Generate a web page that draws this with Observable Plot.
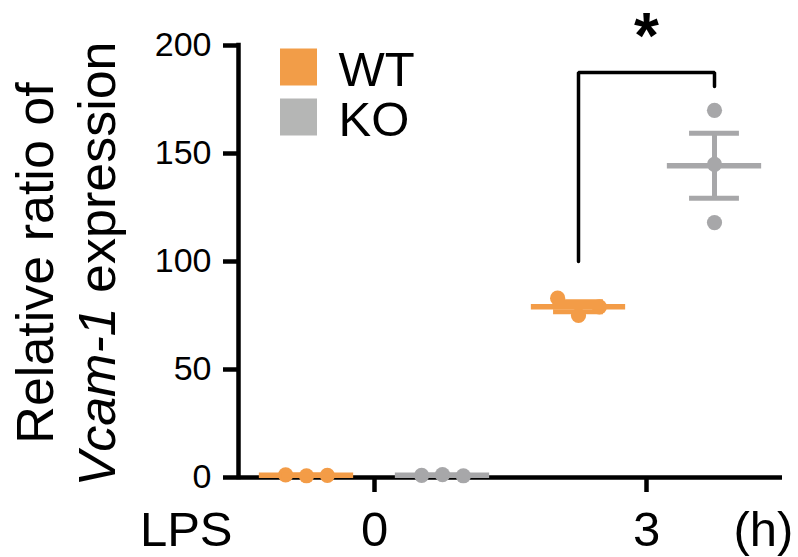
<!DOCTYPE html>
<html><head><meta charset="utf-8">
<script src="https://cdn.jsdelivr.net/npm/d3@7"></script>
<script src="https://cdn.jsdelivr.net/npm/@observablehq/plot@0.6"></script>
<style>
html,body{margin:0;padding:0;background:#fff;}
#chart{width:798px;height:557px;}
</style></head><body><div id="chart"></div>
<script>
// ---- data ----
const times = [0, 3];
const genotypes = ["WT", "KO"];
const wt0 = [1.2, 0.8, 1.0];
const ko0 = [1.0, 1.3, 0.8];
const wt3 = [83, 75, 79];
const ko3 = [170, 145, 118];
const yTicks = [0, 50, 100, 150, 200];
const xTicks = [0, 3];
const xEndLabels = ["LPS", "(h)"];
const yLabelLine1 = "Relative ratio of";
const yLabelGene = "Vcam-1";
const yLabelRest = " expression";
const sigLabel = "*";
const bracketLevels = {top: 187.5, leftBottom: 100, rightBottom: 181};
const seriesColors = ["#f39c47", "#a7a7a9"];
const legendColors = ["#f29d48", "#b5b6b5"];

// ---- layout constants ----
const FONT = "'Liberation Sans', Arial, Helvetica, sans-serif";
const groupOffset = {WT: -0.75, KO: 0.75};
const spread = 0.23, meanHalf = 0.52, capHalf = 0.275, dotR = 7.6;
const pxPerUnit = (557 - 45 - 80) / 200;

const groupValues = {"0-WT": wt0, "0-KO": ko0, "3-WT": wt3, "3-KO": ko3};
const stats = [];
const points = [];
for (const t of times) for (const g of genotypes) {
  const vals = groupValues[`${t}-${g}`];
  const center = t + groupOffset[g];
  const mean = d3.mean(vals);
  const sem = d3.deviation(vals) / Math.sqrt(vals.length);
  let crowded = false;
  for (let i = 0; i < vals.length; i++) for (let j = i + 1; j < vals.length; j++)
    if (Math.abs(vals[i] - vals[j]) * pxPerUnit < 2 * dotR) crowded = true;
  stats.push({time: t, genotype: g, center, mean, sem});
  vals.forEach((v, i) => points.push({genotype: g, x: center + (crowded ? (i - (vals.length - 1) / 2) * spread : 0), y: v}));
}
const caps = stats.flatMap(d => [{...d, cap: d.mean - d.sem}, {...d, cap: d.mean + d.sem}]);
const bx1 = 3 + groupOffset.WT, bx2 = 3 + groupOffset.KO;
const bracket = [
  {x: bx1, y: bracketLevels.leftBottom}, {x: bx1, y: bracketLevels.top},
  {x: bx2, y: bracketLevels.top}, {x: bx2, y: bracketLevels.rightBottom}
];

const legendMarks = genotypes.flatMap((g, i) => [
  Plot.dot([g], {frameAnchor: "top-left", dx: 60, dy: 21.5 + i * 50, symbol: "square", r: 37 / Math.sqrt(Math.PI), fill: legendColors[i]}),
  Plot.text([g], {frameAnchor: "top-left", dx: 100, dy: 40 + i * 50, text: d => d, textAnchor: "start", lineAnchor: "bottom", fontSize: 49, fill: "#000"})
]);

const plot = Plot.plot({
  width: 798, height: 557,
  marginLeft: 238, marginRight: 16, marginTop: 45, marginBottom: 80,
  x: {domain: [-1.5, 4.5]},
  y: {domain: [0, 200]},
  color: {domain: genotypes, range: seriesColors},
  style: {fontFamily: FONT, fontSize: "34px", background: "#fff", color: "#000", overflow: "visible"},
  marks: [
    Plot.ruleX([-1.5], {y1: 0, y2: 200, stroke: "#000", strokeWidth: 4.5, strokeLinecap: "square"}),
    Plot.ruleY([0], {x1: -1.5, x2: 4.5, stroke: "#000", strokeWidth: 4.5}),
    Plot.axisY({ticks: yTicks, tickSize: 15, tickPadding: 12, fontSize: 34, strokeWidth: 4.5, label: null, tickFormat: d => d}),
    Plot.axisX({ticks: xTicks, tickSize: 15, tickPadding: 19, fontSize: 49, strokeWidth: 4.5, label: null, tickFormat: d => d}),
    Plot.text([xEndLabels[0]], {frameAnchor: "bottom-left", dx: -6, dy: 34, text: d => d, textAnchor: "end", lineAnchor: "top", fontSize: 49, fill: "#000"}),
    Plot.text([xEndLabels[1]], {frameAnchor: "bottom-right", dx: -49, dy: 34, text: d => d, textAnchor: "start", lineAnchor: "top", fontSize: 49, fill: "#000"}),
    Plot.dot(points, {x: "x", y: "y", r: dotR, fill: "genotype"}),
    Plot.ruleY(stats, {y: "mean", x1: d => d.center - meanHalf, x2: d => d.center + meanHalf, stroke: "genotype", strokeWidth: 5.5}),
    Plot.ruleX(stats, {x: "center", y1: d => d.mean - d.sem, y2: d => d.mean + d.sem, stroke: "genotype", strokeWidth: 5}),
    Plot.ruleY(caps, {y: "cap", x1: d => d.center - capHalf, x2: d => d.center + capHalf, stroke: "genotype", strokeWidth: 5}),
    Plot.line(bracket, {x: "x", y: "y", stroke: "#000", strokeWidth: 3.5, strokeLinejoin: "miter"}),
    Plot.text([sigLabel], {x: (bx1 + bx2) / 2, y: bracketLevels.top, dy: -15, text: d => d, lineAnchor: "bottom", fontSize: 64, fontWeight: "bold", fill: "#000"}),
    ...legendMarks
  ]
});

// two-line rotated y label with an italic gene name
const svg = d3.select(plot);
svg.append("text")
  .attr("transform", "translate(53,263) rotate(-90)")
  .attr("text-anchor", "middle").attr("font-size", 52).attr("font-family", FONT).attr("fill", "#000")
  .text(yLabelLine1);
const l2 = svg.append("text")
  .attr("transform", "translate(115,264) rotate(-90)")
  .attr("text-anchor", "middle").attr("font-size", 52).attr("font-family", FONT).attr("fill", "#000");
l2.append("tspan").attr("font-style", "italic").text(yLabelGene);
l2.append("tspan").attr("xml:space", "preserve").text(yLabelRest);
l2.style("white-space", "pre");

document.getElementById("chart").appendChild(plot);
</script>
</body></html>
